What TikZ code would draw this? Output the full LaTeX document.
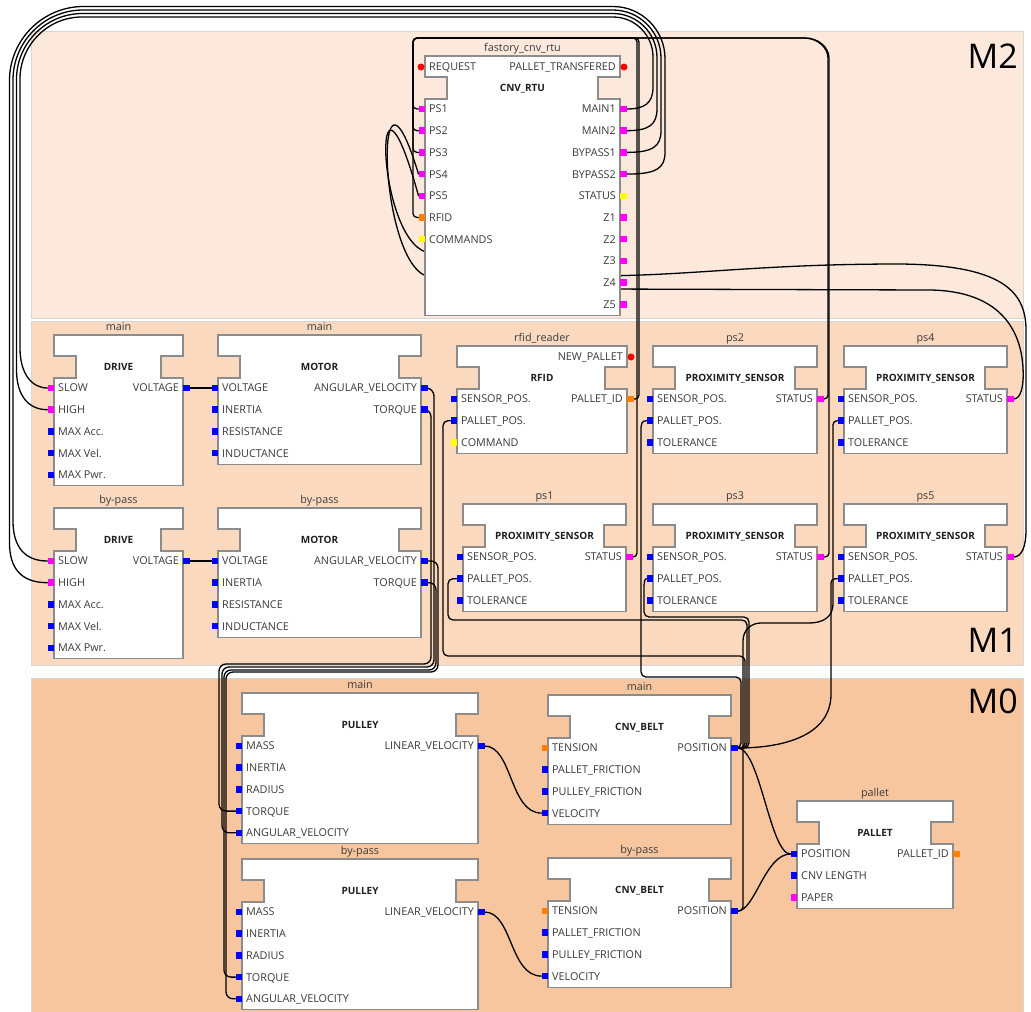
\documentclass[tikz,border=0pt]{standalone}
\usepackage{fontspec}
\setmainfont{Open Sans}
\usetikzlibrary{calc}

\definecolor{bandtop}{HTML}{FCE9DB}
\definecolor{bandmid}{HTML}{FAD9BF}
\definecolor{bandlow}{HTML}{F8C69E}
\definecolor{bandedge}{HTML}{D6D6D6}
\definecolor{fbedge}{HTML}{8C8C8C}
\definecolor{txt}{HTML}{3A3A3A}
\definecolor{pblue}{HTML}{0000FF}
\definecolor{pmag}{HTML}{FF00FF}
\definecolor{porange}{HTML}{FF8000}
\definecolor{pyellow}{HTML}{FFFF00}
\definecolor{pred}{HTML}{FF0000}

\pgfdeclarelayer{bands}
\pgfdeclarelayer{wires}
\pgfsetlayers{bands,wires,main}

\tikzset{
  fbbody/.style={draw=fbedge, fill=white, line width=1.1pt, line join=miter},
  fbport/.style={rectangle, minimum size=6.5pt, inner sep=0pt, outer sep=0pt, fill=#1},
  evport/.style={circle, minimum size=7pt, inner sep=0pt, outer sep=0pt, fill=pred},
  plabel/.style={font=\fontsize{10.8}{12}\selectfont, text=txt, inner sep=0pt},
  ftitle/.style={font=\fontsize{10}{12}\selectfont\bfseries, text=black!88, inner sep=0pt},
  flabel/.style={font=\fontsize{10.8}{12}\selectfont, text=txt, inner sep=0pt},
  wire/.style={draw=black, line width=1.3pt, line cap=round, line join=round},
  bandlabel/.style={font=\fontsize{34}{40}\selectfont, text=black, inner sep=0pt},
}

% function block outline: #1 left, #2 top, #3 right, #4 data rows, #5 instance, #6 type
\newcommand{\fbframe}[6]{%
  \pgfmathsetmacro{\fbB}{#2+64+(#4-1)*21.7}%
  \draw[fbbody] (#1,#2) -- (#3,#2) -- (#3,#2+21) -- (#3-22,#2+21) -- (#3-22,#2+43)
    -- (#3,#2+43) -- (#3,\fbB) -- (#1,\fbB) -- (#1,#2+43) -- (#1+22,#2+43)
    -- (#1+22,#2+21) -- (#1,#2+21) -- cycle;
  \node[flabel, anchor=base] at ({(#1+#3)/2},{#2-5}) {#5};
  \node[ftitle, anchor=base] at ({(#1+#3)/2},{#2+35.6}) {#6};
}
% data input: #1 name, #2 block left, #3 block top, #4 row, #5 text, #6 colour
\newcommand{\fbin}[6]{%
  \node[fbport=#6] (#1) at ({#2-3.25},{#3+53+#4*21.7}) {};
  \node[plabel, anchor=base west] at ({#2+4},{#3+56.9+#4*21.7}) {#5};
}
% data output: #1 name, #2 block right, #3 block top, #4 row, #5 text, #6 colour
\newcommand{\fbout}[6]{%
  \node[fbport=#6] (#1) at ({#2+3.25},{#3+53+#4*21.7}) {};
  \node[plabel, anchor=base east] at ({#2-4},{#3+56.9+#4*21.7}) {#5};
}
% RTU output looping over the top and down the left edge to a drive input
% #1 source, #2 target, #3 source y, #4 right x, #5 top y, #6 left x, #7 target y,
% #8 upper right radius, #9 upper left radius
\newcommand{\topwire}[9]{%
  \draw[wire] (#1.east) .. controls ({#4-8},#3) and (#4,{#3-6}) .. (#4,{#3-22})
    -- (#4,{#5+#8}) .. controls (#4,{#5+0.45*#8}) and ({#4-0.45*#8},#5) .. ({#4-#8},#5)
    -- ({#6+#9},#5) .. controls ({#6+0.45*#9},#5) and (#6,{#5+0.45*#9}) .. (#6,{#5+#9})
    -- (#6,{#7-40}) .. controls (#6,{#7-14}) and ({#6+12},#7) .. (#2.west);
}

\begin{document}
\begin{tikzpicture}[x=1pt, y=-1pt]
\useasboundingbox (0,0) rectangle (1031,1012);

% ---------------- layers of the plant ----------------
\begin{pgfonlayer}{bands}
  \fill[white] (0,0) rectangle (1031,1012);
  \draw[bandedge, fill=bandtop, line width=1pt] (31,31) rectangle (1023,318);
  \draw[bandedge, fill=bandmid, line width=1pt] (31,321) rectangle (1023,665);
  \draw[bandedge, fill=bandlow, line width=1pt] (31,678) rectangle (1023,1014);
  \node[bandlabel, anchor=base east] (lblM2) at (1018,68) {M2};
  \node[bandlabel, anchor=base east] (lblM1) at (1018,652) {M1};
  \node[bandlabel, anchor=base east] (lblM0) at (1018,713) {M0};
\end{pgfonlayer}

% ---------------- M2: conveyor RTU ----------------
\fbframe{425}{56}{620}{10}{fastory\_cnv\_rtu}{CNV\_RTU}
\node[evport] (rtu-req) at (421,67) {};
\node[plabel, anchor=base west] at (429,70.9) {REQUEST};
\node[evport] (rtu-pt) at (624,67) {};
\node[plabel, anchor=base east] at (616,70.9) {PALLET\_TRANSFERED};
\fbin{rtu-ps1}{425}{56}{0}{PS1}{pmag}
\fbin{rtu-ps2}{425}{56}{1}{PS2}{pmag}
\fbin{rtu-ps3}{425}{56}{2}{PS3}{pmag}
\fbin{rtu-ps4}{425}{56}{3}{PS4}{pmag}
\fbin{rtu-ps5}{425}{56}{4}{PS5}{pmag}
\fbin{rtu-rfid}{425}{56}{5}{RFID}{porange}
\fbin{rtu-cmd}{425}{56}{6}{COMMANDS}{pyellow}
\fbout{rtu-m1}{620}{56}{0}{MAIN1}{pmag}
\fbout{rtu-m2}{620}{56}{1}{MAIN2}{pmag}
\fbout{rtu-b1}{620}{56}{2}{BYPASS1}{pmag}
\fbout{rtu-b2}{620}{56}{3}{BYPASS2}{pmag}
\fbout{rtu-st}{620}{56}{4}{STATUS}{pyellow}
\fbout{rtu-z1}{620}{56}{5}{Z1}{pmag}
\fbout{rtu-z2}{620}{56}{6}{Z2}{pmag}
\fbout{rtu-z3}{620}{56}{7}{Z3}{pmag}
\fbout{rtu-z4}{620}{56}{8}{Z4}{pmag}
\fbout{rtu-z5}{620}{56}{9}{Z5}{pmag}

% ---------------- M1: drives, motors, sensors ----------------
\fbframe{54}{335}{183}{5}{main}{DRIVE}
\fbin{dm-slow}{54}{335}{0}{SLOW}{pmag}
\fbin{dm-high}{54}{335}{1}{HIGH}{pmag}
\fbin{dm-acc}{54}{335}{2}{MAX Acc.}{pblue}
\fbin{dm-vel}{54}{335}{3}{MAX Vel.}{pblue}
\fbin{dm-pwr}{54}{335}{4}{MAX Pwr.}{pblue}
\fbout{dm-volt}{183}{335}{0}{VOLTAGE}{pblue}

\fbframe{218}{335}{421}{4}{main}{MOTOR}
\fbin{mm-volt}{218}{335}{0}{VOLTAGE}{pblue}
\fbin{mm-inr}{218}{335}{1}{INERTIA}{pblue}
\fbin{mm-res}{218}{335}{2}{RESISTANCE}{pblue}
\fbin{mm-ind}{218}{335}{3}{INDUCTANCE}{pblue}
\fbout{mm-av}{421}{335}{0}{ANGULAR\_VELOCITY}{pblue}
\fbout{mm-tq}{421}{335}{1}{TORQUE}{pblue}

\fbframe{54}{508}{183}{5}{by-pass}{DRIVE}
\fbin{db-slow}{54}{508}{0}{SLOW}{pmag}
\fbin{db-high}{54}{508}{1}{HIGH}{pmag}
\fbin{db-acc}{54}{508}{2}{MAX Acc.}{pblue}
\fbin{db-vel}{54}{508}{3}{MAX Vel.}{pblue}
\fbin{db-pwr}{54}{508}{4}{MAX Pwr.}{pblue}
\fbout{db-volt}{183}{508}{0}{VOLTAGE}{pblue}

\fbframe{218}{508}{421}{4}{by-pass}{MOTOR}
\fbin{mb-volt}{218}{508}{0}{VOLTAGE}{pblue}
\fbin{mb-inr}{218}{508}{1}{INERTIA}{pblue}
\fbin{mb-res}{218}{508}{2}{RESISTANCE}{pblue}
\fbin{mb-ind}{218}{508}{3}{INDUCTANCE}{pblue}
\fbout{mb-av}{421}{508}{0}{ANGULAR\_VELOCITY}{pblue}
\fbout{mb-tq}{421}{508}{1}{TORQUE}{pblue}

\fbframe{457}{346}{627}{3}{rfid\_reader}{RFID}
\node[evport] (rfid-new) at (631,357) {};
\node[plabel, anchor=base east] at (623,360.5) {NEW\_PALLET};
\fbin{rfid-sp}{457}{346}{0}{SENSOR\_POS.}{pblue}
\fbin{rfid-pp}{457}{346}{1}{PALLET\_POS.}{pblue}
\fbin{rfid-cmd}{457}{346}{2}{COMMAND}{pyellow}
\fbout{rfid-id}{627}{346}{0}{PALLET\_ID}{porange}

% proximity sensors: #1 prefix, #2 left, #3 top, #4 right, #5 instance
\newcommand{\proxsensor}[5]{%
  \fbframe{#2}{#3}{#4}{3}{#5}{PROXIMITY\_SENSOR}
  \fbin{#1-sp}{#2}{#3}{0}{SENSOR\_POS.}{pblue}
  \fbin{#1-pp}{#2}{#3}{1}{PALLET\_POS.}{pblue}
  \fbin{#1-tol}{#2}{#3}{2}{TOLERANCE}{pblue}
  \fbout{#1-st}{#4}{#3}{0}{STATUS}{pmag}
}
\proxsensor{ps1}{463}{504}{626}{ps1}
\proxsensor{ps2}{653}{346}{817}{ps2}
\proxsensor{ps3}{653}{504}{817}{ps3}
\proxsensor{ps4}{844}{346}{1007}{ps4}
\proxsensor{ps5}{844}{504}{1007}{ps5}

% ---------------- M0: pulleys, belts, pallet ----------------
\fbframe{242}{693}{478}{5}{main}{PULLEY}
\fbin{pm-mass}{242}{693}{0}{MASS}{pblue}
\fbin{pm-inr}{242}{693}{1}{INERTIA}{pblue}
\fbin{pm-rad}{242}{693}{2}{RADIUS}{pblue}
\fbin{pm-tq}{242}{693}{3}{TORQUE}{pblue}
\fbin{pm-av}{242}{693}{4}{ANGULAR\_VELOCITY}{pblue}
\fbout{pm-lin}{478}{693}{0}{LINEAR\_VELOCITY}{pblue}

\fbframe{242}{859}{478}{5}{by-pass}{PULLEY}
\fbin{pb-mass}{242}{859}{0}{MASS}{pblue}
\fbin{pb-inr}{242}{859}{1}{INERTIA}{pblue}
\fbin{pb-rad}{242}{859}{2}{RADIUS}{pblue}
\fbin{pb-tq}{242}{859}{3}{TORQUE}{pblue}
\fbin{pb-av}{242}{859}{4}{ANGULAR\_VELOCITY}{pblue}
\fbout{pb-lin}{478}{859}{0}{LINEAR\_VELOCITY}{pblue}

\fbframe{548}{695}{731}{4}{main}{CNV\_BELT}
\fbin{cm-ten}{548}{695}{0}{TENSION}{porange}
\fbin{cm-pf}{548}{695}{1}{PALLET\_FRICTION}{pblue}
\fbin{cm-uf}{548}{695}{2}{PULLEY\_FRICTION}{pblue}
\fbin{cm-vel}{548}{695}{3}{VELOCITY}{pblue}
\fbout{cm-pos}{731}{695}{0}{POSITION}{pblue}

\fbframe{548}{858}{731}{4}{by-pass}{CNV\_BELT}
\fbin{cb-ten}{548}{858}{0}{TENSION}{porange}
\fbin{cb-pf}{548}{858}{1}{PALLET\_FRICTION}{pblue}
\fbin{cb-uf}{548}{858}{2}{PULLEY\_FRICTION}{pblue}
\fbin{cb-vel}{548}{858}{3}{VELOCITY}{pblue}
\fbout{cb-pos}{731}{858}{0}{POSITION}{pblue}

\fbframe{797}{801}{953}{3}{pallet}{PALLET}
\fbin{pal-pos}{797}{801}{0}{POSITION}{pblue}
\fbin{pal-len}{797}{801}{1}{CNV LENGTH}{pblue}
\fbin{pal-pap}{797}{801}{2}{PAPER}{pmag}
\fbout{pal-id}{953}{801}{0}{PALLET\_ID}{porange}

% ---------------- connections ----------------
\begin{pgfonlayer}{wires}
  % drives feed the motors
  \draw[wire] (dm-volt.east) .. controls +(14,0) and +(-14,0) .. (mm-volt.west);
  \draw[wire] (db-volt.east) .. controls +(14,0) and +(-14,0) .. (mb-volt.west);
  % pulleys drive the belts
  \draw[wire] (pm-lin.east) .. controls +(28,0) and +(-32,0) .. (cm-vel.west);
  \draw[wire] (pb-lin.east) .. controls +(28,0) and +(-32,0) .. (cb-vel.west);
  % motor shafts down to the pulleys
  \draw[wire, rounded corners=7pt] (mm-av.east) -- (434,389) -- (434,667) -- (222,667) -- (222,832.8) -- (pm-av.west);
  \draw[wire, rounded corners=7pt] (mm-tq.east) -- (431,409.7) -- (431,664) -- (219,664) -- (219,811.1) -- (pm-tq.west);
  \draw[wire, rounded corners=7pt] (mb-av.east) -- (438,561) -- (438,672) -- (226,672) -- (226,998.8) -- (pb-av.west);
  \draw[wire, rounded corners=7pt] (mb-tq.east) -- (436,582.7) -- (436,670) -- (224,670) -- (224,977.1) -- (pb-tq.west);

  % RTU speed commands over the top to the drives
  \topwire{rtu-m1}{dm-slow}{109}{653}{17}{20}{388}{40}{62}
  \topwire{rtu-m2}{dm-high}{130.7}{657}{13.5}{16.5}{409.7}{44}{66}
  \topwire{rtu-b1}{db-slow}{152.4}{661}{10}{13}{561}{48}{70}
  \topwire{rtu-b2}{db-high}{174.1}{665}{6.5}{9.5}{582.7}{52}{74}

  % sensor states and pallet id back to the RTU
  \draw[wire, rounded corners=4pt] (ps1-st.east) -- (637,557) -- (637,38) -- (413,38) -- (413,109) -- (rtu-ps1.west);
  \draw[wire, rounded corners=4pt] (rfid-id.east) -- (639,399) -- (639,38) -- (413,38) -- (413,217.5) -- (rtu-rfid.west);
  \draw[wire, rounded corners=4pt] (ps2-st.east) -- (828,399) -- (828,62)
    .. controls (828,48) and (818,38) .. (800,38) -- (413,38) -- (413,130.7) -- (rtu-ps2.west);
  \draw[wire, rounded corners=4pt] (ps3-st.east) -- (829,557) -- (829,62)
    .. controls (829,48) and (819,38) .. (801,38) -- (413,38) -- (413,152.4) -- (rtu-ps3.west);
  \draw[wire] (ps4-st.east) .. controls (1021,399) and (1024,386) .. (1023,368)
    .. controls (1021,330) and (1000,291) .. (930,290) -- (600,289) -- (432,277)
    .. controls (378,277) and (372,20) .. (rtu-ps4.west);
  \draw[wire] (ps5-st.east) .. controls (1022,557) and (1026,546) .. (1026,530)
    -- (1026,330) .. controls (1026,290) and (1000,265) .. (900,264)
    .. controls (760,264) and (700,275) .. (600,276) -- (432,253)
    .. controls (376,253) and (370,20) .. (rtu-ps5.west);

  % belt positions to the sensors
  \draw[wire, rounded corners=5pt] (ps1-pp.west) -- (448,578.7) -- (448,620) -- (747,620) -- (747,748) -- (cm-pos.east);
  \draw[wire, rounded corners=5pt] (rfid-pp.west) -- (443,420.7) -- (443,656) -- (745,656) -- (745,748) -- (cm-pos.east);
  \draw[wire, rounded corners=5pt] (ps2-pp.west) .. controls (642,420.7) and (641,424) .. (641,432)
    -- (641,677) -- (741,677) -- (741,748) -- (cm-pos.east);
  \draw[wire, rounded corners=5pt] (ps3-pp.west) .. controls (645,578.7) and (644,582) .. (644,590)
    -- (644,617) -- (749,617) -- (749,748) -- (cm-pos.east);
  \draw[wire, rounded corners=4pt] (ps4-pp.west) -- (833,420.7) -- (833,600)
    .. controls (833,617) and (823,623) .. (805,623) -- (765,623)
    .. controls (751,623) and (743,630) .. (743,645) -- (743,911) -- (cb-pos.east);
  \draw[wire, rounded corners=4pt] (ps5-pp.west) -- (831,578.7) -- (831,690)
    .. controls (831,735) and (785,748) .. (cm-pos.east);

  % belt positions to the pallet
  \draw[wire] (cm-pos.east) .. controls (760,748) and (770,854) .. (pal-pos.west);
  \draw[wire] (cb-pos.east) .. controls (755,911) and (765,854) .. (pal-pos.west);
\end{pgfonlayer}
\end{tikzpicture}
\end{document}
